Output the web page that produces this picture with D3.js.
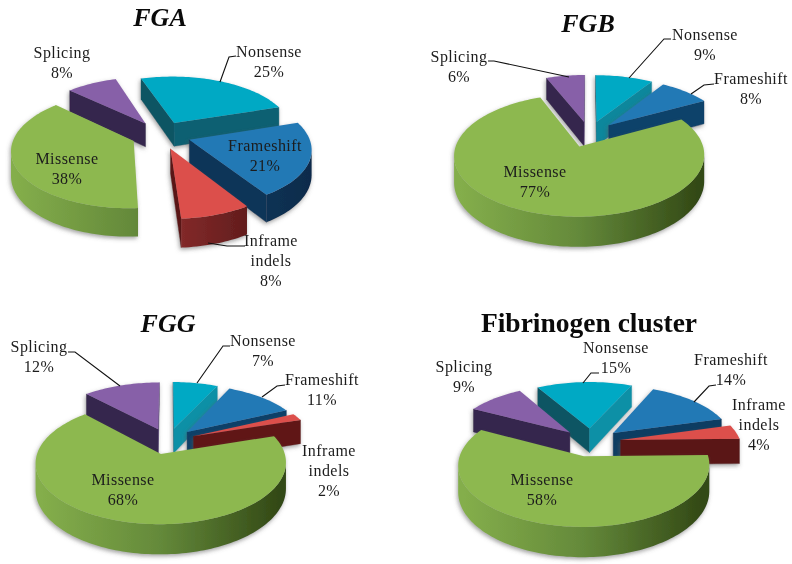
<!DOCTYPE html>
<html><head><meta charset="utf-8">
<script src="https://cdn.jsdelivr.net/npm/d3@7"></script>
<style>html,body{margin:0;padding:0;background:#fff}svg{display:block;filter:blur(.3px)}
text{font-family:"Liberation Serif",serif;fill:#1c1c1c}</style></head>
<body><div id="chart"></div>
<script>
// ---------- data ----------
const categories = ["Nonsense","Frameshift","Inframe indels","Missense","Splicing"];
const valuesFGA = [25,21,8,38,8];
const valuesFGB = [9,8,0,77,6];
const valuesFGG = [7,11,2,68,12];
const valuesCluster = [15,14,4,58,9];
const titles = ["FGA","FGB","FGG","Fibrinogen cluster"];

// ---------- style ----------
const topColors = ["#00a9c4","#2379b5","#dc4f4b","#8db84f","#8760a8"];
const wallDark  = ["#0d5564","#0c3558","#5a1616","#4f6a28","#35254d"];
const wallLight = ["#0b90a6","#145a8c","#7a2222","#6f9440","#4a3468"];
const rimStops  = [
  ["#0f6d7e","#0d5564","#0a3f4c"],
  ["#14527f","#0e3c62","#0a2c4c"],
  ["#a03535","#872b2b","#4e1515"],
  ["#84ae4b","#64893a","#324815"],
  ["#4a3468","#35254d","#281b3c"]];

// ---------- layout: projection of each tilted pie, and its explosion ----------
const W = 792, H = 564;
const geometry = [
  {cx:161, cy:135, S:119, t:.47, k:.14, rot:-18, e:.25, h:24},
  {cx:589, cy:134, S:120, t:.47, k:.14, rot:0,   e:.23, h:25},
  {cx:168, cy:441, S:120, t:.47, k:.14, rot:0,   e:.23, h:25},
  {cx:591, cy:442, S:120, t:.47, k:.14, rot:-30, e:.25, h:25}];
const titleAt = [[160,26],[588,32],[168,332],[589,332]];
// label anchors per panel and category: x centre, first baseline
const labelAt = [
  [[269,57],[265,151],[271,246],[67,164],[62,58]],
  [[705,40],[751,84],null,[535,177],[459,62]],
  [[263,346],[322,385],[329,456],[123,485],[39,352]],
  [[616,353],[731,365],[759,410],[542,485],[464,372]]];
const leaders = [
  [[[236,56],[229,57],[220,82]],null,[[245,246],[227,246],[208,243]],null,null],
  [[[671,39],[664,39],[629,78]],[[714,84],[704,85],[691,94]],null,null,[[488,61],[494,61],[569,77]]],
  [[[230,346],[223,346],[197,383]],[[285,385],[277,386],[262,397]],null,null,[[68,352],[75,352],[120,386]]],
  [[[599,373],[591,373],[583,383]],[[716,385],[709,386],[694,402]],null,null,null]];

const allValues = [valuesFGA,valuesFGB,valuesFGG,valuesCluster];
const svg = d3.select("#chart").append("svg").attr("width",W).attr("height",H);
const defs = svg.append("defs");
const f = defs.append("filter").attr("id","shadow").attr("x","-20%").attr("y","-20%").attr("width","140%").attr("height","140%");
f.append("feDropShadow").attr("dx",-1).attr("dy",2).attr("stdDeviation",2).attr("flood-color","#555").attr("flood-opacity",.55);

const line = d3.line();
const pie = d3.pie().sort(null).value(d=>d.value);
const rad = d3.scaleLinear().domain([0,360]).range([0,2*Math.PI]);

allValues.forEach((vals,pi)=>{
  const g = geometry[pi];
  const offset = rad(g.rot);
  const arcs = pie.startAngle(offset).endAngle(offset+2*Math.PI)(vals.map((value,i)=>({value,i})))
     .filter(a=>a.data.value>0);
  arcs.sort((a,b)=>d3.descending(Math.cos((a.startAngle+a.endAngle)/2),Math.cos((b.startAngle+b.endAngle)/2)));
  const panel = svg.append("g");
  arcs.forEach((a,ai)=>{
    const c = a.data.i, mid=(a.startAngle+a.endAngle)/2;
    const ox = g.e*Math.sin(mid), oy = g.e*Math.cos(mid);
    const proj=(X,Y,z)=>{const w=1+g.k*Y;return [g.cx+g.S*X/w, g.cy-g.S*g.t*Y/w+z*g.h/w];};
    const pt=(r,th,z)=>proj(ox+r*Math.sin(th),oy+r*Math.cos(th),z);
    const ths=d3.range(0,Math.ceil((a.endAngle-a.startAngle)/rad(1.5))+1)
       .map(n=>Math.min(a.endAngle,a.startAngle+n*rad(1.5)));
    const top=ths.map(th=>pt(1,th,0)), bot=ths.map(th=>pt(1,th,1));
    const apex=pt(0,0,0), apexB=pt(0,0,1);
    const group=panel.append("g").attr("filter","url(#shadow)");
    // radial walls that face the viewer
    [[apex,top[0],apexB,bot[0]],[top[top.length-1],apex,bot[bot.length-1],apexB]].forEach(([p,q,pb,qb])=>{
      const dx=q[0]-p[0],dy=q[1]-p[1];
      if(dx<0){
        const nx=dy/Math.hypot(dx,dy);
        const mix=Math.max(0,Math.min(1,nx/.7));
        group.append("path").attr("d",line([p,q,qb,pb])+"Z")
          .attr("fill",d3.interpolateRgb(wallDark[c],wallLight[c])(mix))
          .attr("stroke",d3.interpolateRgb(wallDark[c],wallLight[c])(mix)).attr("stroke-width",.4);
      }
    });
    // rim
    const gid=`rim${pi}-${c}`;
    const cxS=proj(ox,oy,0)[0];
    const lg=defs.append("linearGradient").attr("id",gid).attr("gradientUnits","userSpaceOnUse")
      .attr("x1",cxS-g.S).attr("x2",cxS+g.S).attr("y1",0).attr("y2",0);
    rimStops[c].forEach((col,i)=>lg.append("stop").attr("offset",i/2).attr("stop-color",col));
    let run=[];
    const flush=()=>{ if(run.length>1){
        const tp=run.map(i=>top[i]), bt=run.map(i=>bot[i]).reverse();
        group.append("path").attr("d",line(tp.concat(bt))+"Z").attr("fill",`url(#${gid})`);
      } run=[]; };
    for(let i=0;i<top.length-1;i++){
      if(top[i+1][0]<top[i][0]){ if(!run.length) run.push(i); run.push(i+1);} else flush();
    }
    flush();
    // top face
    group.append("path").attr("d",line([apex].concat(top))+"Z").attr("fill",topColors[c]);
  });
  // leaders
  const ll = svg.append("g");
  leaders[pi].forEach(L=>{ if(L) ll.append("path").attr("d",line(L)).attr("fill","none").attr("stroke","#111").attr("stroke-width",1.1); });
  // labels
  vals.forEach((v,c)=>{
    const at=labelAt[pi][c]; if(!at) return;
    const rows = categories[c].split(" ").concat([v+"%"]);
    const lh = 19.8;
    rows.forEach((r,j)=>{
      svg.append("text").attr("x",at[0]).attr("y",at[1]+j*lh).attr("text-anchor","middle")
        .attr("font-size",16).attr("letter-spacing",.45).text(r);
    });
  });
  svg.append("text").attr("x",titleAt[pi][0]).attr("y",titleAt[pi][1]).attr("text-anchor","middle")
    .attr("font-size",pi===3?27.5:26).attr("font-weight","bold").attr("font-style",pi===3?"normal":"italic")
    .style("fill","#0a0a0a").text(titles[pi]);
});
</script></body></html>
